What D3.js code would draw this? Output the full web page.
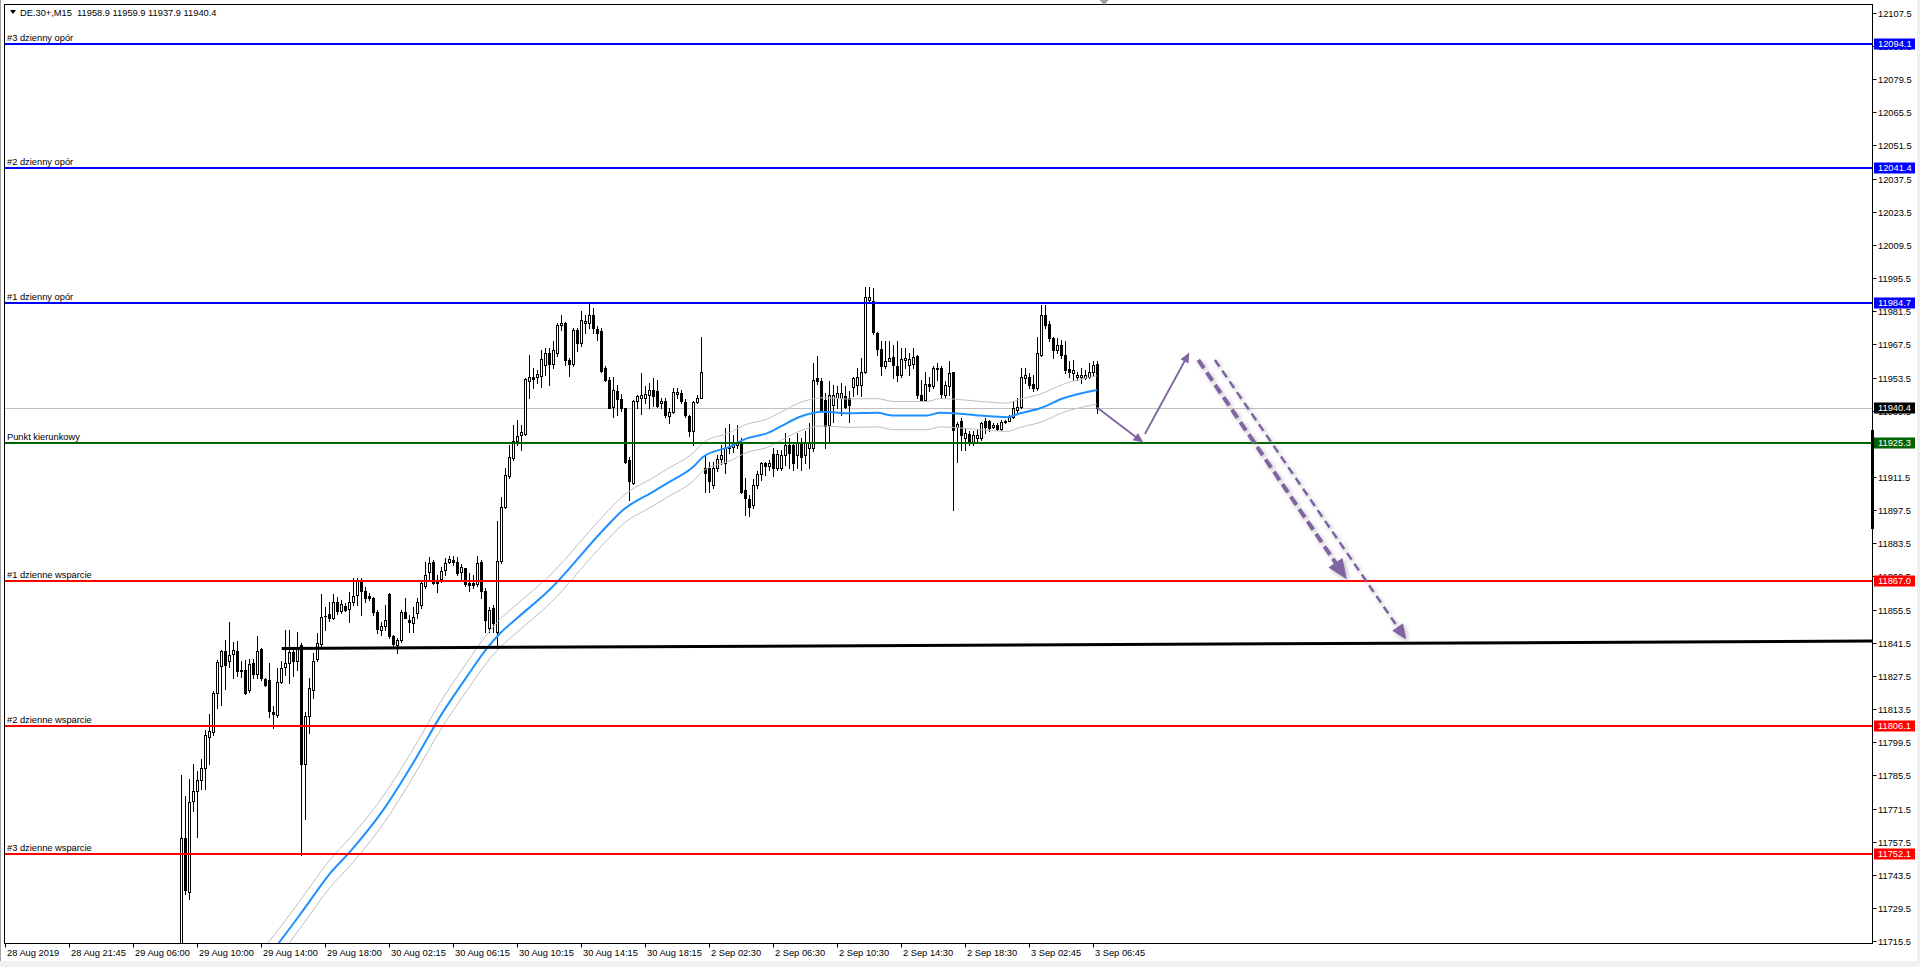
<!DOCTYPE html>
<html><head><meta charset="utf-8">
<script src="https://cdn.jsdelivr.net/npm/d3@7"></script>
<style>
html,body{margin:0;padding:0;background:#fff;overflow:hidden}
svg{display:block}
text{font-family:"Liberation Sans",Arial,sans-serif;font-size:9.3px;fill:#000}
</style></head><body>
<svg id="chart" width="1920" height="967"></svg>
<script>
// ---------- DATA ----------
const symbol = "DE.30+,M15";
const firstBar = 44; // index of first visible bar (bar 0 = 28 Aug 2019)
const opens = [
11705,11758.7,11735.9,11774.2,11778.3,11783.0,11788.3,11801.4,11803.2,11820.0,
11831.4,11837.7,11833.3,11836.2,11837.7,11829.5,11829.5,11821.1,11832.7,11827.7,
11838.4,11825.7,11825.3,11811.9,11810.5,11824.6,11830.9,11832.7,11837.0,11833.3,
11840.1,11789.8,11810.3,11821.1,11834.2,11840.4,11852.5,11853.1,11851.4,11858.1,
11854.4,11856.7,11855.3,11858.4,11861.2,11867.6,11863.1,11860.9,11859.8,11853.9,
11846.4,11848.3,11861.5,11844.1,11840.1,11842.2,11854.2,11850.6,11849.3,11853.5,
11857.0,11865.2,11871.1,11875.0,11867.6,11868.0,11871.8,11875.3,11876.0,11875.3,
11870.8,11872.5,11866.2,11866.2,11865.7,11875.0,11863.1,11847.2,11855.9,11845.7,
11875.6,11898.6,11911.3,11919.0,11926.3,11928.6,11929.1,11951.7,11953.5,11953.1,
11953.9,11958.4,11963.4,11958.7,11963.4,11975.1,11976.0,11960.5,11958.7,11973.2,
11967.6,11976.0,11976.0,11979.6,11973.6,11972.6,11957.0,11952.1,11940.8,11947.4,
11944.1,11940.1,11918.3,11908.7,11943.2,11944.4,11944.6,11945.5,11947.9,11947.4,
11942.2,11943.2,11937.0,11938.7,11946.0,11946.4,11942.9,11937.0,11930.3,11942.7,
11944.6,11914.8,11914.8,11907.7,11914.8,11918.7,11916.9,11923.5,11923.9,11924.6,
11925.8,11905.6,11901.8,11899.3,11907.7,11912.3,11916.9,11915.9,11920.7,11914.8,
11914.8,11920.4,11924.6,11924.6,11920.4,11924.9,11920.4,11923.2,11923.2,11952.8,
11951.4,11943.6,11933.1,11941.5,11944.4,11944.4,11945.1,11944.4,11948.9,11949.7,
11949.7,11955.6,11985.9,11985.2,11971.8,11965.2,11957.8,11960.1,11961.6,11957.8,
11954.2,11960.5,11958.2,11958.7,11962.0,11945.8,11943.6,11950.3,11949.3,11956.7,
11957.0,11945.8,11949.3,11955.2,11932.0,11934.8,11927.7,11929.1,11926.0,11927.7,
11927.7,11934.8,11934.8,11932.0,11933.1,11931.4,11934.2,11934.8,11936.6,11939.4,
11940.8,11952.8,11953.5,11950.3,11948.6,11962.7,11979.6,11975.6,11969.7,11964.8,
11966.9,11962.7,11956.7,11954.9,11953.5,11953.5,11952.8,11953.1,11955.6,11958.9];
const highs = [
11785.4,11776.3,11783.5,11790.1,11787.1,11792.2,11804.2,11810.8,11820.6,11833.8,
11838.0,11842.2,11849.7,11841.5,11841.8,11833.3,11833.8,11834.2,11834.1,11843.9,
11839.0,11826.3,11832.4,11814.5,11830.3,11833.2,11846.4,11846.4,11838.7,11845.7,
11840.8,11811.9,11826.0,11836.6,11845.0,11861.5,11856.3,11858.1,11861.5,11860.5,
11859.1,11857.7,11862.7,11868.6,11868.3,11868.6,11864.8,11861.9,11860.2,11854.9,
11850.0,11857.0,11861.9,11844.3,11842.9,11854.9,11859.8,11852.8,11856.3,11859.8,
11867.1,11875.3,11877.4,11876.0,11869.7,11873.2,11877.0,11877.9,11877.9,11877.4,
11874.2,11872.8,11870.4,11869.9,11877.7,11875.9,11864.1,11856.3,11857.0,11892.5,
11902.8,11914.8,11924.6,11933.1,11935.2,11933.1,11952.8,11962.7,11957.0,11956.3,
11964.8,11965.5,11965.5,11968.3,11976.0,11979.6,11976.5,11961.3,11973.9,11973.9,
11981.0,11979.6,11984.5,11982.4,11974.7,11974.0,11957.8,11953.5,11953.5,11950.0,
11946.0,11940.4,11919.7,11943.6,11945.8,11954.9,11949.3,11950.7,11952.8,11952.1,
11944.4,11944.4,11940.1,11948.6,11948.6,11947.9,11944.0,11937.3,11943.0,11945.8,
11970.0,11920.4,11917.6,11917.6,11920.4,11924.6,11931.7,11933.4,11928.8,11933.1,
11927.5,11910.5,11903.5,11910.3,11913.4,11917.6,11917.6,11918.3,11923.2,11922.5,
11922.4,11929.6,11927.5,11926.0,11929.6,11927.5,11930.3,11933.8,11959.1,11962.0,
11952.8,11946.5,11951.4,11950.0,11949.3,11950.7,11949.3,11947.2,11953.5,11957.0,
11961.3,11991.1,11991.1,11990.8,11972.5,11968.3,11968.3,11968.3,11966.9,11968.3,
11965.5,11965.5,11963.4,11965.5,11962.7,11952.1,11955.6,11953.5,11957.8,11959.1,
11957.8,11951.4,11959.9,11955.6,11934.5,11935.9,11931.7,11930.3,11930.3,11930.8,
11934.5,11935.9,11935.3,11933.8,11933.8,11935.2,11935.2,11937.3,11943.0,11944.4,
11957.3,11957.0,11954.9,11954.2,11970.0,11983.8,11983.8,11976.8,11970.0,11969.7,
11969.0,11968.3,11959.9,11960.5,11955.6,11957.0,11956.3,11959.1,11960.1,11959.9];
const lows = [
11700,11735.2,11733.0,11770.2,11759.2,11779.5,11779.5,11789.7,11802.3,11813.6,
11815.0,11821.5,11830.9,11826.3,11827.1,11826.7,11819.3,11820.1,11826.0,11826.3,
11825.3,11822.9,11809.8,11804.9,11809.8,11823.9,11827.4,11823.9,11827.2,11829.5,
11751.3,11766.6,11802.8,11817.6,11833.3,11839.5,11846.4,11850.2,11851.1,11853.1,
11853.5,11854.4,11850.0,11857.0,11857.0,11852.9,11858.4,11859.1,11852.8,11845.0,
11844.3,11846.4,11842.9,11838.7,11836.6,11841.5,11851.4,11845.7,11845.7,11851.4,
11855.6,11864.1,11867.6,11865.7,11862.7,11866.9,11869.7,11874.6,11873.9,11869.9,
11867.6,11865.2,11862.9,11864.1,11864.9,11859.8,11845.7,11845.7,11845.7,11838.7,
11874.6,11897.9,11910.5,11918.2,11924.5,11922.5,11928.7,11944.4,11948.6,11950.7,
11948.9,11954.2,11950.0,11957.0,11962.1,11973.2,11958.4,11953.9,11957.9,11964.4,
11966.3,11971.8,11974.0,11971.8,11969.0,11955.6,11951.4,11940.1,11936.6,11937.3,
11938.9,11916.9,11901.4,11908.0,11940.1,11937.6,11942.3,11940.1,11940.9,11940.5,
11940.1,11936.6,11933.8,11938.0,11944.4,11942.2,11936.6,11928.2,11924.6,11942.3,
11944.4,11904.9,11904.9,11906.3,11913.4,11916.5,11912.7,11921.1,11921.8,11923.2,
11904.2,11895.0,11894.4,11897.9,11906.3,11909.8,11911.9,11914.0,11911.3,11913.9,
11913.9,11916.2,11914.8,11914.1,11914.8,11914.1,11916.9,11914.8,11921.9,11950.3,
11938.9,11923.2,11926.1,11934.5,11940.1,11937.3,11940.1,11934.5,11945.1,11946.0,
11945.2,11954.9,11984.5,11971.4,11962.7,11954.2,11957.0,11959.9,11952.8,11951.4,
11953.5,11957.0,11954.2,11957.0,11944.4,11943.0,11943.0,11947.2,11948.6,11951.9,
11944.4,11944.4,11945.8,11897.1,11917.6,11922.5,11922.4,11924.6,11924.6,11926.0,
11926.7,11929.6,11930.3,11931.7,11930.9,11930.9,11934.0,11934.6,11935.9,11938.7,
11940.1,11950.7,11948.6,11947.2,11947.9,11962.0,11973.9,11968.3,11961.3,11963.4,
11961.3,11954.9,11953.5,11952.1,11952.1,11950.7,11952.6,11952.8,11954.2,11937.9];
const closes = [
11758.7,11736.5,11773.9,11778.4,11783.0,11788.3,11802.1,11803.7,11819.7,11832.8,
11837.7,11831.9,11835.9,11838.0,11829.1,11829.3,11819.7,11832.3,11827.7,11837.7,
11826.0,11823.2,11812.2,11810.8,11824.6,11830.3,11832.7,11837.3,11833.3,11839.0,
11789.8,11810.3,11821.8,11833.3,11841.1,11852.1,11852.4,11851.4,11858.4,11854.4,
11857.3,11854.9,11858.1,11861.0,11867.6,11863.1,11860.1,11859.8,11854.2,11846.9,
11848.3,11850.6,11844.1,11840.4,11842.2,11854.2,11851.7,11850.0,11852.1,11858.1,
11866.2,11869.9,11874.6,11866.2,11866.2,11871.4,11874.6,11876.4,11875.3,11870.4,
11873.2,11865.7,11865.4,11865.4,11874.9,11862.9,11850.6,11854.9,11849.3,11875.6,
11898.6,11911.9,11919.7,11926.3,11928.2,11930.0,11952.5,11953.1,11952.5,11954.5,
11960.9,11963.4,11958.7,11964.8,11975.3,11976.0,11960.5,11958.7,11973.2,11967.6,
11977.2,11976.8,11979.6,11974.0,11971.8,11955.9,11952.1,11940.4,11947.7,11944.1,
11940.4,11917.6,11909.2,11943.0,11945.1,11945.5,11946.0,11947.9,11945.1,11940.9,
11943.2,11937.3,11938.7,11946.8,11946.8,11943.2,11937.3,11930.3,11942.7,11944.6,
11955.2,11912.7,11909.2,11914.8,11918.7,11920.4,11923.5,11923.9,11924.9,11925.3,
11904.9,11902.1,11898.6,11907.7,11912.3,11916.9,11915.9,11916.9,11914.8,11920.7,
11920.4,11924.6,11921.1,11916.9,11925.3,11919.7,11926.0,11925.3,11952.1,11951.4,
11939.4,11932.4,11945.8,11945.8,11946.5,11946.5,11940.8,11941.3,11952.8,11953.5,
11955.6,11986.9,11986.9,11972.5,11965.2,11957.8,11959.9,11961.3,11958.2,11954.2,
11960.9,11961.3,11960.9,11961.6,11945.5,11943.6,11950.3,11949.3,11957.0,11957.3,
11946.0,11950.0,11954.9,11930.9,11933.4,11928.8,11929.6,11926.0,11928.8,11928.8,
11933.8,11932.0,11931.7,11933.1,11931.4,11934.5,11934.8,11936.6,11940.1,11940.8,
11953.5,11954.2,11950.0,11948.6,11963.4,11979.6,11975.3,11969.7,11964.8,11966.9,
11962.7,11956.3,11955.6,11956.3,11954.2,11954.2,11954.2,11955.3,11958.4,11940.4];

// moving average (read at sample bars) and envelope deviation (%)
const maBars = [64,68.3,74.5,81.2,86.2,94.5,102.9,108.7,115.4,120.4,123.7,127.9,136.2,149.5,154.5,162,165.4,172,174.5,181.2,185.4,190.4,193.7,198.7,204.5,210.4,217.9,222,230.4,233.7,237,243.7,250.4,253.7,258.7,264.5,272.9];
const maValues = [11705,11714.2,11728.2,11743.7,11752.9,11770.5,11793.0,11809.9,11826.8,11838.7,11845.1,11851.4,11863.7,11888.7,11897.2,11904.9,11908.4,11915.4,11919.6,11923.9,11927.4,11929.5,11932.3,11936.5,11938.6,11938.0,11938.2,11937.0,11937.0,11938.2,11938.0,11937.0,11936.3,11938.0,11940.1,11944.3,11947.8];
const envelopePct = 0.05;

// horizontal levels
const levelPrices = [12094.1, 12041.4, 11984.7, 11925.3, 11867.0, 11806.1, 11752.1];
const levelNames = ["#3 dzienny opór","#2 dzienny opór","#1 dzienny opór","Punkt kierunkowy","#1 dzienne wsparcie","#2 dzienne wsparcie","#3 dzienne wsparcie"];
const levelKinds = ["res","res","res","pivot","sup","sup","sup"];
const currentPrice = 11940.4;
const spreadBar = [11889.1, 11930.9];

// trend line (bar index, price)
const trendBars = [69.1, 466.7];
const trendPrices = [11838.7, 11841.8];

// forecast arrows
const arrowStartBars  = [272.85, 284.9, 298.25, 302.4];
const arrowStartPrices= [11940.5, 11929.2, 11960.5, 11960.5];
const arrowEndBars    = [284.5, 296.0, 335.35, 350.2];
const arrowEndPrices  = [11925.6, 11963.6, 11867.9, 11842.5];
const arrowKinds      = ["solid","solid","dashBold","dashThin"];

// axes
const priceTicks = [12107.5,12093.5,12079.5,12065.5,12051.5,12037.5,12023.5,12009.5,11995.5,11981.5,11967.5,11953.5,11939.5,11925.5,11911.5,11897.5,11883.5,11869.5,11855.5,11841.5,11827.5,11813.5,11799.5,11785.5,11771.5,11757.5,11743.5,11729.5,11715.5];
const timeLabels = ["28 Aug 2019","28 Aug 21:45","29 Aug 06:00","29 Aug 10:00","29 Aug 14:00","29 Aug 18:00","30 Aug 02:15","30 Aug 06:15","30 Aug 10:15","30 Aug 14:15","30 Aug 18:15","2 Sep 02:30","2 Sep 06:30","2 Sep 10:30","2 Sep 14:30","2 Sep 18:30","3 Sep 02:45","3 Sep 06:45"];
const timeLabelBars = [0,16,32,48,64,80,96,112,128,144,160,176,192,208,224,240,256,272];
const shiftMarkerBar = 274.7;

// ---------- STYLE / LAYOUT ----------
const kindColor = {res:"#0000ff", pivot:"#006400", sup:"#ff0000"};
const purple = "#8064a2";
const arrowStyle = {
  solid:   {w:1.8, dash:null,  len:10, half:4.5, shadow:false},
  dashBold:{w:4,   dash:"10,5",len:20, half:8.5, shadow:true},
  dashThin:{w:2.5, dash:"8,5", len:15, half:6.5, shadow:true}
};
const P = {left:4.5, top:4.5, right:1872.5, bottom:943.5};

const svg = d3.select("#chart");
const x = d3.scaleLinear().domain([0, 273]).range([5.3, 1097.3]);
const y = d3.scaleLinear().domain([11752.1, 12094.1]).range([853.5, 43.5]);

const defs = svg.append("defs");
defs.append("clipPath").attr("id","clip").append("rect")
  .attr("x",P.left+0.5).attr("y",P.top+0.5).attr("width",P.right-P.left-1).attr("height",P.bottom-P.top-1);
const f = defs.append("filter").attr("id","shadow").attr("x","-20%").attr("y","-20%").attr("width","140%").attr("height","140%");
f.append("feDropShadow").attr("dx",2).attr("dy",2).attr("stdDeviation",2.2).attr("flood-color","#808080").attr("flood-opacity",0.55);

// background
svg.append("rect").attr("width",1920).attr("height",967).attr("fill","#fff");
svg.append("rect").attr("x",0).attr("y",961).attr("width",1920).attr("height",6).attr("fill","#f0f0f0");
svg.append("rect").attr("x",1917).attr("y",0).attr("width",3).attr("height",967).attr("fill","#f0f0f0");
svg.append("line").attr("x1",0.5).attr("x2",0.5).attr("y1",0).attr("y2",961).attr("stroke","#a0a0a0");

const plot = svg.append("g").attr("clip-path","url(#clip)");

// current price line (behind bars)
plot.append("line").attr("x1",P.left).attr("x2",P.right)
  .attr("y1",Math.round(y(currentPrice))+0.5).attr("y2",Math.round(y(currentPrice))+0.5)
  .attr("stroke","#c0c0c0").attr("stroke-width",1);

// candles
const bars = opens.map((o,k)=>({i:firstBar+k, o, c:closes[k], h:Math.max(highs[k],o,closes[k]), l:Math.min(lows[k],o,closes[k])}));
const cg = plot.append("g");
const cand = cg.selectAll("g").data(bars).join("g");
cand.append("line")
  .attr("x1",d=>Math.round(x(d.i))+0.5).attr("x2",d=>Math.round(x(d.i))+0.5)
  .attr("y1",d=>Math.round(y(d.h))).attr("y2",d=>Math.round(y(d.l))+1)
  .attr("stroke","#000").attr("stroke-width",1);
cand.each(function(d){
  const g = d3.select(this);
  const cx = Math.round(x(d.i))+0.5;
  const top = Math.round(y(Math.max(d.o,d.c))), bot = Math.round(y(Math.min(d.o,d.c)));
  if (bot-top < 1) {
    g.append("line").attr("x1",cx-1.5).attr("x2",cx+1.5).attr("y1",top+0.5).attr("y2",top+0.5).attr("stroke","#000");
  } else {
    g.append("rect").attr("x",cx-1).attr("y",top+0.5).attr("width",2).attr("height",bot-top)
      .attr("fill", d.c>=d.o ? "#fff" : "#000").attr("stroke","#000").attr("stroke-width",1);
  }
});

// moving average + envelope
const maPts = maBars.map((b,k)=>({b, v:maValues[k]}));
const lineGen = k => d3.line().x(d=>x(d.b)).y(d=>y(d.v*(1+k*envelopePct/100))).curve(d3.curveMonotoneX);
[1,-1].forEach(k=>plot.append("path").datum(maPts).attr("d",lineGen(k)).attr("fill","none").attr("stroke","#c0c0c0").attr("stroke-width",1));
plot.append("path").datum(maPts).attr("d",lineGen(0)).attr("fill","none").attr("stroke","#1e90ff").attr("stroke-width",2);

// level lines
levelPrices.forEach((p,k)=>{
  const yy = Math.round(y(p));
  plot.append("line").attr("x1",P.left).attr("x2",P.right).attr("y1",yy).attr("y2",yy)
    .attr("stroke",kindColor[levelKinds[k]]).attr("stroke-width",2);
  svg.append("text").attr("x",7).attr("y",yy-3).text(levelNames[k]);
});

// trend line
plot.append("line").attr("x1",x(trendBars[0])).attr("y1",y(trendPrices[0]))
  .attr("x2",x(trendBars[1])).attr("y2",y(trendPrices[1]))
  .attr("stroke","#000").attr("stroke-width",3);

// arrows
arrowKinds.forEach((kind,k)=>{
  const st = arrowStyle[kind];
  const x1=x(arrowStartBars[k]), y1=y(arrowStartPrices[k]);
  const x2=x(arrowEndBars[k]),   y2=y(arrowEndPrices[k]);
  const dx=x2-x1, dy=y2-y1, L=Math.hypot(dx,dy), ux=dx/L, uy=dy/L, nx=-uy, ny=ux;
  const g = plot.append("g");
  if (st.shadow) g.attr("filter","url(#shadow)");
  const ex = x2-ux*st.len*0.85, ey = y2-uy*st.len*0.85;
  const ln = g.append("line").attr("x1",x1).attr("y1",y1).attr("x2",ex).attr("y2",ey)
    .attr("stroke",purple).attr("stroke-width",st.w);
  if (st.dash) ln.attr("stroke-dasharray",st.dash);
  const bx = x2-ux*st.len, by = y2-uy*st.len;
  g.append("path").attr("d",`M${x2},${y2}L${bx+nx*st.half},${by+ny*st.half}L${bx-nx*st.half},${by-ny*st.half}Z`)
    .attr("fill",purple);
});

// frame
svg.append("rect").attr("x",P.left).attr("y",P.top).attr("width",P.right-P.left).attr("height",P.bottom-P.top)
  .attr("fill","none").attr("stroke","#000").attr("stroke-width",1);

// shift marker
const sx = x(shiftMarkerBar);
svg.append("path").attr("d",`M${sx-4.5},0L${sx+4.5},0L${sx},5Z`).attr("fill","#a0a0a0");

// header
svg.append("path").attr("d","M10,10L16,10L13,14Z").attr("fill","#000");
const last = bars[bars.length-1];
svg.append("text").attr("x",20).attr("y",16).style("white-space","pre")
  .text(`${symbol}  ${last.o.toFixed(1)} ${d3.max([last.h]).toFixed(1)} ${last.l.toFixed(1)} ${last.c.toFixed(1)}`);

// price axis
const pa = svg.append("g");
priceTicks.forEach(p=>{
  const yy = Math.round(y(p))+1.5;
  pa.append("line").attr("x1",P.right).attr("x2",P.right+4).attr("y1",yy).attr("y2",yy).attr("stroke","#000");
  pa.append("text").attr("x",1878).attr("y",yy+3.2).text(p.toFixed(1));
});
// spread bar on axis
pa.append("rect").attr("x",1871).attr("width",3).attr("y",y(spreadBar[1])).attr("height",y(spreadBar[0])-y(spreadBar[1])).attr("fill","#000");

// level price labels
const labelDefs = levelPrices.map((p,k)=>({p, col:kindColor[levelKinds[k]]})).concat([{p:currentPrice, col:"#000"}]);
labelDefs.forEach(d=>{
  const yy = Math.round(y(d.p));
  pa.append("rect").attr("x",1874).attr("y",yy-5.5).attr("width",41).attr("height",11).attr("fill",d.col);
  pa.append("text").attr("x",1878).attr("y",yy+3.3).style("fill","#fff").text(d.p.toFixed(1));
});

// time axis
timeLabelBars.forEach((b,k)=>{
  const xx = Math.round(x(b))+0.5;
  svg.append("line").attr("x1",xx).attr("x2",xx).attr("y1",P.bottom).attr("y2",P.bottom+4).attr("stroke","#000");
  svg.append("text").attr("x",xx+1.5).attr("y",955.5).text(timeLabels[k]);
});
</script>
</body></html>
